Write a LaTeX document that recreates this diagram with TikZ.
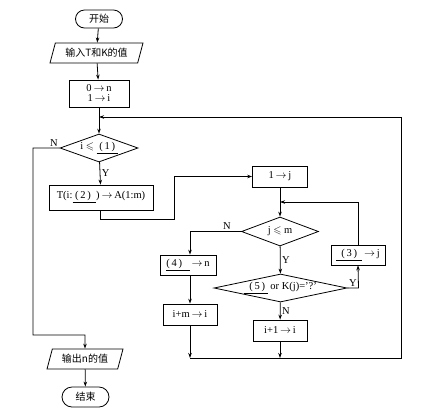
\documentclass[tikz,border=0pt]{standalone}
\usepackage{amssymb}
\usepackage{fontspec}
\setmainfont{Liberation Serif}
\newfontfamily\cjk{Noto Sans CJK SC}
\usetikzlibrary{shapes.geometric,shapes.misc,arrows.meta}
\begin{document}
\begin{tikzpicture}[x=1pt,y=-1pt,line width=0.8pt,
  >={Stealth[length=5pt,width=3.5pt]},
  txt/.style={font=\fontsize{10.5}{12}\selectfont},
  box/.style={draw,rectangle,inner sep=0pt,txt,align=center},
  term/.style={draw,rounded rectangle,inner sep=0pt,font=\cjk\fontsize{10}{12}\selectfont},
  io/.style={draw,trapezium,trapezium left angle=60,trapezium right angle=120,
    trapezium stretches body,inner sep=0pt,font=\cjk\fontsize{10}{12}\selectfont},
  dec/.style={draw,diamond,inner sep=0pt,txt},
  lbl/.style={txt,inner sep=1.5pt}]
\fill[white] (0,0) rectangle (444,416);
\useasboundingbox (0,0) rectangle (444,416);
% nodes
\node[term,minimum width=47pt,minimum height=18pt] (start) at (99,19) {开始};
\node[io,minimum width=93pt,minimum height=20pt] (in) at (96.5,53) {输入T和K的值};
\node[box,minimum width=60pt,minimum height=27pt] (init) at (99,93.5) {0$\,\rightarrow\,$n\\[-2pt]1$\,\rightarrow\,$i};
\node[dec,aspect=2.8,minimum width=78pt,minimum height=28pt] (d1) at (99,148) {i $\leqslant$ \underline{\ (\,1\,)\ }};
\node[box,minimum width=104pt,minimum height=25pt] (tbox) at (101,197.5) {T(i:\underline{\ (\,2\,)\ \ })$\,\rightarrow\,$A(1:m)};
\node[box,minimum width=55pt,minimum height=21pt] (jbox) at (280,176.5) {1$\,\rightarrow\,$j};
\node[dec,aspect=2.65,minimum width=77pt,minimum height=29pt] (d2) at (280,231.5) {j $\leqslant$ m};
\node[box,minimum width=56pt,minimum height=20pt] (b4) at (188,265) {\underline{(\,4\,)\ \ \ }$\,\rightarrow\,$n};
\node[box,minimum width=54pt,minimum height=21pt] (bim) at (190,314.5) {i+m$\,\rightarrow\,$i};
\node[dec,aspect=4.75,minimum width=133pt,minimum height=28pt] (d3) at (280.5,288) {\underline{\ \ (\,5\,)\ } or K(j)=’?’};
\node[box,minimum width=54pt,minimum height=20pt] (q3) at (358,255) {\underline{\ \ (\,3\,)\ \ }$\,\rightarrow\,$j};
\node[box,minimum width=54pt,minimum height=21pt] (bi1) at (280,330.5) {i+1$\,\rightarrow\,$i};
\node[io,minimum width=76pt,minimum height=20pt] (out) at (85,359) {输出n的值};
\node[term,minimum width=47pt,minimum height=20pt] (end) at (85.5,397) {结束};
% coordinates
\coordinate (m1) at (99,117);
\coordinate (r1) at (401,117);
\coordinate (r2) at (401,358);
\coordinate (n1a) at (33,148);
\coordinate (n1b) at (33,335);
\coordinate (n1c) at (85,335);
\coordinate (t0) at (100,210);
\coordinate (t1) at (174,219);
\coordinate (m2) at (280,202);
\coordinate (n2a) at (190,231.5);
\coordinate (y3) at (358.5,288);
\coordinate (r3) at (190,358);
\coordinate (r4) at (280,358);
% connectors
\draw[->] (start) -- (in);
\draw[->] (in) -- (init);
\draw[->] (init) -- (d1);
\draw[->] (r3) -- (r2) -- (r1) -- (m1);
\draw[->] (d1.west) -- (n1a) -- (n1b) -- (n1c) -- (out.north);
\node[lbl,anchor=south east] (ln1) at (d1.west) {N};
\draw[->] (d1) -- node[lbl,right] (ly1) {Y} (tbox);
\draw[->] (t0) |- (t1) |- (jbox.west);
\draw[->] (jbox) -- (d2);
\draw[->] (q3.north) |- (m2);
\draw[->] (d2.west) -- (n2a) -- (b4.north -| n2a);
\node[lbl,anchor=south] (ln2) at (227,231.5) {N};
\draw[->] (b4.south -| bim.north) -- (bim.north);
\draw[->] (bim.south) -- (r3);
\draw[->] (d2) -- node[lbl,right] (ly2) {Y} (d3);
\draw[->] (d3.east) -- (y3) -- (q3.south);
\node[lbl,anchor=south east] (ly3) at (y3) {Y};
\draw[->] (d3) -- node[lbl,right] (ln3) {N} (bi1);
\draw[->] (bi1.south) -- (r4);
\draw[->] (out) -- (end);
\end{tikzpicture}
\end{document}
